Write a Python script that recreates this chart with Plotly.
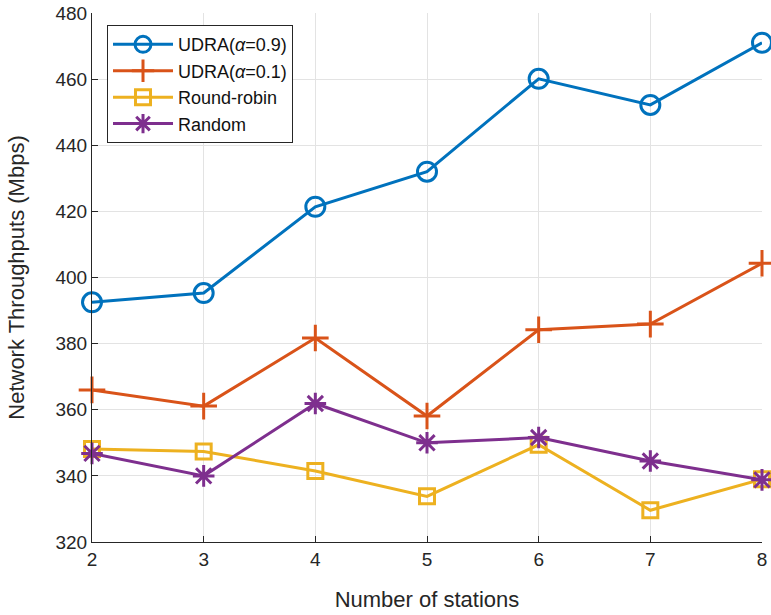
import plotly.graph_objects as go

stations = [2, 3, 4, 5, 6, 7, 8]
udra_09 = [392.5, 395.3, 421.4, 432.0, 460.1, 452.2, 471.0]
udra_01 = [366.0, 361.1, 381.7, 358.1, 384.2, 385.9, 404.3]
round_robin = [348.1, 347.4, 341.5, 333.8, 349.4, 329.6, 339.0]
random_ = [346.8, 340.0, 361.9, 350.0, 351.6, 344.5, 338.8]

series = [
    ("UDRA(<i>α</i>=0.9)", udra_09, "#0072BD", "circle-open", 19),
    ("UDRA(<i>α</i>=0.1)", udra_01, "#D95319", "cross-thin-open", 19),
    ("Round-robin", round_robin, "#EDB120", "square-open", 15),
    ("Random", random_, "#7E2F8E", "asterisk-open", 18),
]

fig = go.Figure()
for name, vals, col, sym, sz in series:
    fig.add_trace(go.Scatter(
        x=stations, y=vals, name=name, mode="lines+markers",
        line=dict(color=col, width=3),
        marker=dict(symbol=sym, size=sz, color=col, line=dict(color=col, width=3)),
        cliponaxis=False,
    ))

FONT = "Liberation Sans, Arial, Helvetica"
axis_common = dict(
    showgrid=True, gridcolor="#e3e3e3", gridwidth=1,
    showline=True, linecolor="#262626", linewidth=1.2,
    ticks="inside", ticklen=6, tickcolor="#262626",
    tickfont=dict(family=FONT, size=19, color="#262626"),
    zeroline=False, mirror=False, automargin=False,
)

fig.update_layout(
    width=771, height=615,
    margin=dict(l=92, r=9, t=13, b=73),
    paper_bgcolor="white", plot_bgcolor="white",
    font=dict(family=FONT, color="#262626"),
    xaxis=dict(range=[2, 8], tickvals=stations,
               title=dict(text="Number of stations", font=dict(size=22), standoff=22),
               **axis_common),
    yaxis=dict(range=[320, 480], dtick=20,
               title=dict(text="Network Throughputs (Mbps)", font=dict(size=22), standoff=24),
               **axis_common),
    legend=dict(x=0.0224, y=0.977, xanchor="left", yanchor="top",
                bgcolor="white", bordercolor="#262626", borderwidth=1,
                font=dict(family=FONT, size=18, color="#111111"),
                itemwidth=60, tracegroupgap=0),
    showlegend=True,
)

fig.write_html("out.html",
               config={"displayModeBar": False},
               post_script="document.body.style.margin='0';document.body.style.overflow='hidden';")
